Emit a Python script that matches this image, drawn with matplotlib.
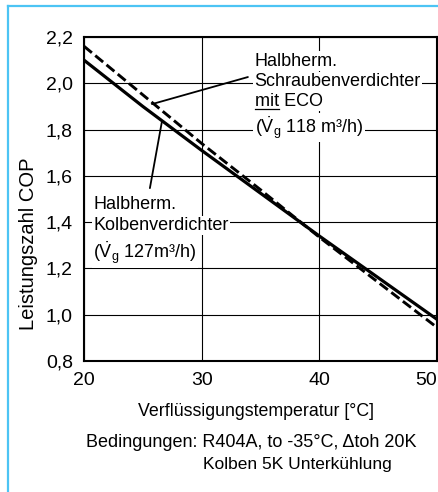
import matplotlib
matplotlib.use("Agg")
import matplotlib.pyplot as plt
from matplotlib.lines import Line2D

plt.rcParams['font.family'] = ['Liberation Sans', 'DejaVu Sans']
plt.rcParams['mathtext.fontset'] = 'custom'
plt.rcParams['mathtext.rm'] = 'Liberation Sans'
plt.rcParams['mathtext.it'] = 'Liberation Sans:italic'

# Verflüssigungstemperatur [°C]
temp = [20, 25, 30, 35, 40, 45, 50]
# Kolbenverdichter (durchgezogen)
cop_kolben = [2.10, 1.90, 1.71, 1.525, 1.34, 1.16, 0.98]
# Schraubenverdichter mit ECO (gestrichelt)
cop_schraube = [2.16, 1.95, 1.74, 1.54, 1.335, 1.14, 0.945]

xticks = [20, 30, 40, 50]
yticks = [0.8, 1.0, 1.2, 1.4, 1.6, 1.8, 2.0, 2.2]
ylabels = ['0,8', '1,0', '1,2', '1,4', '1,6', '1,8', '2,0', '2,2']

W, H = 439, 492
fig = plt.figure(figsize=(W / 100, H / 100), dpi=100)
ax = fig.add_axes([84 / W, (H - 361) / H, (437 - 84) / W, (361 - 37) / H])

ax.set_xlim(20, 50)
ax.set_ylim(0.8, 2.2)
ax.set_xticks(xticks)
ax.set_yticks(yticks)
ax.set_yticklabels(ylabels)
ax.tick_params(length=0, labelsize=14)
ax.tick_params(axis='y', pad=8)
ax.tick_params(axis='x', pad=8)
# letzte Beschriftung (50) rechtsbündig, sonst abgeschnitten
xl = ax.get_xticklabels()
xl[-1].set_horizontalalignment('right')
for lab in xl[:-1]:
    lab.set_horizontalalignment('center')
ax.grid(True, color='black', lw=0.8, zorder=0)
for s in ax.spines.values():
    s.set_linewidth(1.5)
    s.set_zorder(5)

ax.plot(temp, cop_kolben, color='black', lw=2.3, zorder=3)
ax.plot(temp, cop_schraube, color='black', lw=2.1, dashes=(3.5, 1.5), zorder=3)

box = dict(facecolor='white', edgecolor='none', pad=1.0)
fs = 13
vg = r'$\dot{\mathrm{V}}_\mathrm{g}$'

# Beschriftung Schraubenverdichter
xs = 34.5
ax.text(xs, 2.076, 'Halbherm.', fontsize=fs, va='baseline', bbox=box, zorder=4)
ax.text(xs, 1.988, 'Schraubenverdichter', fontsize=fs, va='baseline', bbox=box, zorder=4)
ax.text(xs, 1.902, 'mit ECO', fontsize=fs, va='baseline', bbox=box, zorder=4)
ax.text(xs, 1.786, '(' + vg + ' 118 m³/h)', fontsize=fs, va='baseline', bbox=box, zorder=4)
ax.annotate('', xy=(25.78, 1.910), xytext=(33.93, 2.027),
            arrowprops=dict(arrowstyle='-', color='black', lw=1.3, shrinkA=0, shrinkB=0))

# Beschriftung Kolbenverdichter
xk = 20.8
ax.text(xk, 1.455, 'Halbherm.', fontsize=fs, va='baseline', bbox=box, zorder=4)
ax.text(xk, 1.366, 'Kolbenverdichter', fontsize=fs, va='baseline', bbox=box, zorder=4)
ax.text(xk, 1.244, '(' + vg + ' 127m³/h)', fontsize=fs, va='baseline', bbox=box, zorder=4)
ax.annotate('', xy=(26.63, 1.837), xytext=(25.6, 1.547),
            arrowprops=dict(arrowstyle='-', color='black', lw=1.3, shrinkA=0, shrinkB=0))

ax.set_ylabel('Leistungszahl COP', fontsize=14.5)
ax.yaxis.set_label_coords(-0.13, 0.363)
ax.set_xlabel('Verflüssigungstemperatur [°C]', fontsize=12.8, va='baseline')
ax.xaxis.set_label_coords(0.487, (361 - 416) / 324)

fig.text(86 / W, 1 - 447 / H, 'Bedingungen: R404A, to -35°C, \u0394toh 20K', fontsize=13, va='baseline')
fig.text(203 / W, 1 - 469 / H, 'Kolben 5K Unterkühlung', fontsize=12.5, va='baseline')

# blauer Rahmen
blue = '#4cc4f4'
fig.add_artist(Line2D([8 / W, 8 / W], [0, 1 - 5.5 / H], color=blue, lw=1.6))
fig.add_artist(Line2D([8 / W, 1], [1 - 5.5 / H, 1 - 5.5 / H], color=blue, lw=1.6))

# Unterstreichung von "mit"
fig.canvas.draw()
r = fig.canvas.get_renderer()
tmp = ax.text(xs, 1.902, 'mit', fontsize=fs, va='baseline', alpha=0)
bb = tmp.get_window_extent(r)
tmp.remove()
_, base_y = ax.transData.transform((xs, 1.902))
uy = (base_y - 3) / H
fig.add_artist(Line2D([bb.x0 / W, bb.x1 / W], [uy, uy], color='black', lw=0.9, zorder=6))

fig.savefig('out.png', dpi=100)
